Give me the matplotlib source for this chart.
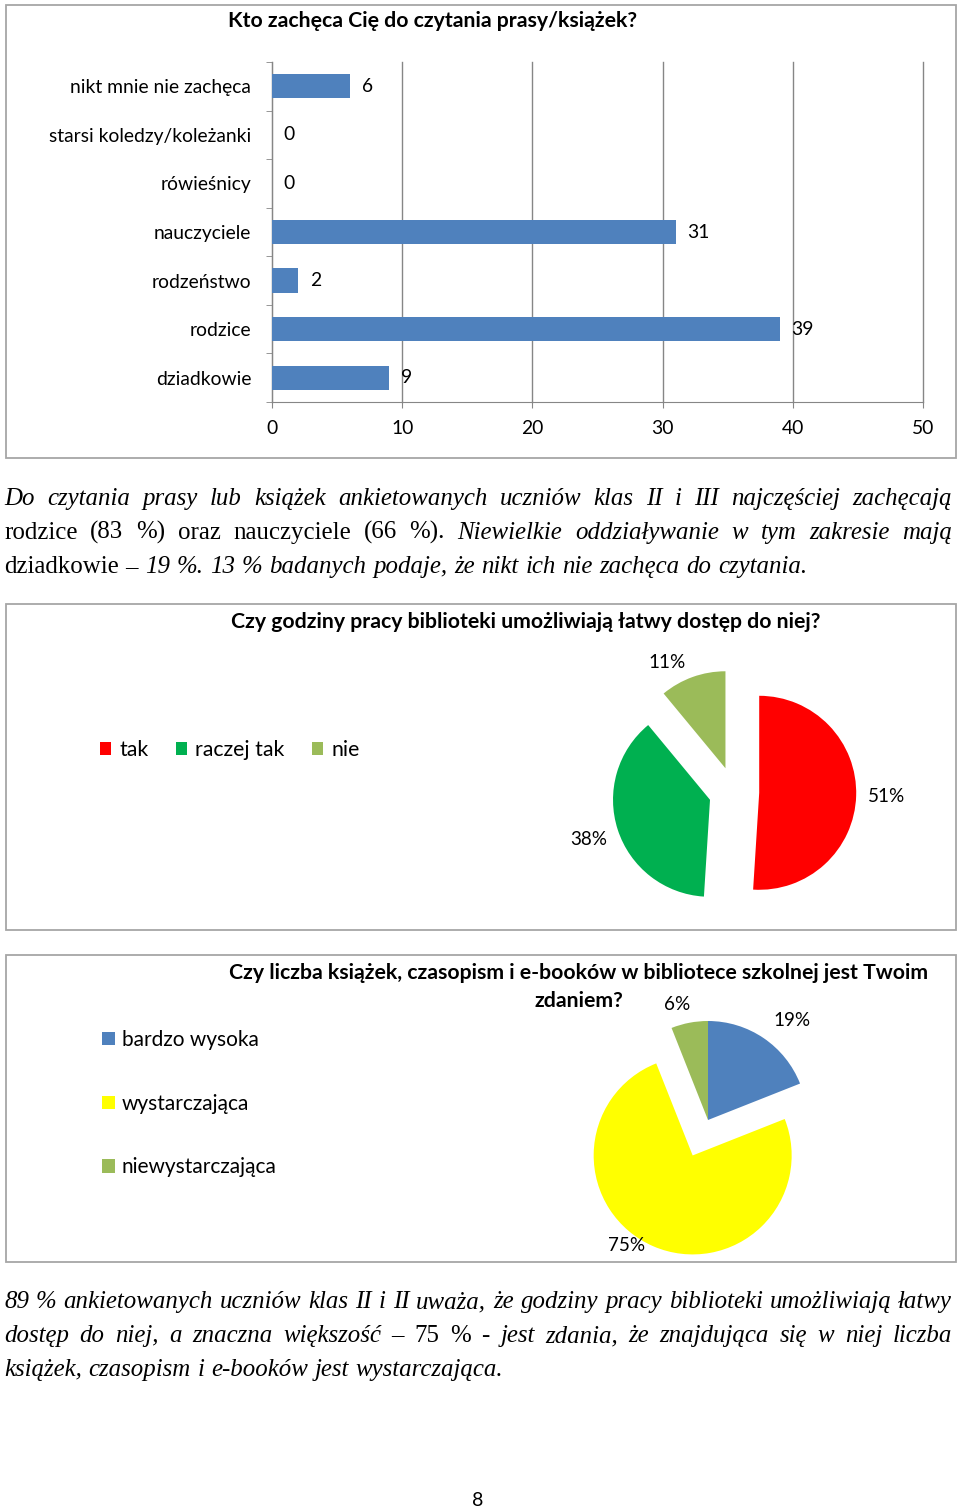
import numpy as np
import matplotlib
matplotlib.use("Agg")
import matplotlib.pyplot as plt
from matplotlib.patches import Rectangle

plt.rcParams['font.family'] = ['Lato', 'DejaVu Sans']

# --- data ---
kto_labels = ["nikt mnie nie zachęca", "starsi koledzy/koleżanki", "rówieśnicy",
              "nauczyciele", "rodzeństwo", "rodzice", "dziadkowie"]
kto_values = [6, 0, 0, 31, 2, 39, 9]
kto_ticks = [0, 10, 20, 30, 40, 50]

godziny_labels = ["tak", "raczej tak", "nie"]
godziny_values = [51, 38, 11]

liczba_labels = ["bardzo wysoka", "wystarczająca", "niewystarczająca"]
liczba_values = [19, 75, 6]

para1 = [
    [("Do czytania prasy lub książek ankietowanych uczniów klas II i III najczęściej zachęcają", True)],
    [("rodzice (83 %) oraz nauczyciele (66 %).", False), ("Niewielkie oddziaływanie w tym zakresie mają", True)],
    [("dziadkowie –", False), ("19 %. 13 % badanych podaje, że nikt ich nie zachęca do czytania.", True)],
]
para2 = [
    [("89 % ankietowanych uczniów klas II i II uważa, że godziny pracy biblioteki umożliwiają łatwy", True)],
    [("dostęp do niej, a znaczna większość –", True), ("75 %", False), ("- jest zdania, że znajdująca się w niej liczba", True)],
    [("książek, czasopism i e-booków jest wystarczająca.", True)],
]

W, H = 960, 1510
fig = plt.figure(figsize=(9.6, 15.1), dpi=100)
fig.patch.set_facecolor('white')


def frac(x0, y0, x1, y1):
    return [x0 / W, 1 - y1 / H, (x1 - x0) / W, (y1 - y0) / H]


def box(x0, y0, x1, y1):
    fig.patches.append(Rectangle((x0 / W, 1 - y1 / H), (x1 - x0) / W, (y1 - y0) / H,
                                 transform=fig.transFigure, fill=False,
                                 edgecolor='#a6a6a6', lw=1.3))


def ftext(x, y, s, **kw):
    return fig.text(x / W, 1 - y / H, s, **kw)


def para_line(y, segs, justify=True, x0=4, x1=952, size=17.9):
    r = fig.canvas.get_renderer()
    words = []
    for s, it in segs:
        for w in s.split():
            words.append(ftext(0, y, w, fontsize=size, family='Liberation Serif',
                               style='italic' if it else 'normal', va='baseline', ha='left'))
    widths = [t.get_window_extent(r).width for t in words]
    gap = (x1 - x0 - sum(widths)) / (len(words) - 1) if justify else size * 100 / 72 * 0.27
    x = x0
    for t, w in zip(words, widths):
        t.set_x(x / W)
        x += w + gap


TITLE = 15.3

# --- chart 1: bars ---
box(6, 5, 956, 458)
ftext(433, 21, "Kto zachęca Cię do czytania prasy/książek?", ha='center', va='center',
      fontsize=TITLE, fontweight='bold')
ax = fig.add_axes(frac(272, 62, 923, 402))
pos = np.arange(len(kto_values))
ax.barh(pos, kto_values, height=0.5, color='#4F81BD', zorder=3)
ax.set_ylim(len(pos) - 0.5, -0.5)
ax.set_xlim(0, 50)
ax.set_xticks(kto_ticks)
ax.set_yticks(pos, kto_labels)
ax.set_yticks(np.arange(len(pos) + 1) - 0.5, minor=True)
ax.tick_params(axis='y', which='major', length=0, pad=15, labelsize=13.9)
ax.tick_params(axis='y', which='minor', length=4, color='#868686')
ax.tick_params(axis='x', length=4, color='#868686', pad=9, labelsize=13.9)
ax.grid(axis='x', color='#868686', lw=1, zorder=0)
for gl in ax.get_xgridlines():
    gl.set_clip_on(False)
for s in ['top', 'right']:
    ax.spines[s].set_visible(False)
ax.spines['left'].set_color('#868686')
ax.spines['bottom'].set_color('#868686')
for p, v in zip(pos, kto_values):
    ax.annotate(str(v), (v, p), xytext=(8.5, 0), textcoords='offset points',
                ha='left', va='center', fontsize=13.9)

para_y1 = 505
for i, line in enumerate(para1):
    para_line(para_y1 + 34 * i, line, justify=i < 2)


def pie_axes(cx, cy, r, k=2.0):
    a = fig.add_axes(frac(cx - k * r, cy - k * r, cx + k * r, cy + k * r))
    return a


def pct_labels(a, wedges, values, dists, shifts, size):
    for w, v, d, sh in zip(wedges, values, dists, shifts):
        th = np.deg2rad((w.theta1 + w.theta2) / 2 + sh)
        cx, cy = w.center
        a.text(cx + d * np.cos(th), cy + d * np.sin(th), f"{v}%", ha='center', va='center',
               fontsize=size)


# --- chart 2: pie ---
box(6, 604, 956, 930)
ftext(526, 622, "Czy godziny pracy biblioteki umożliwiają łatwy dostęp do niej?", ha='center',
      va='center', fontsize=TITLE, fontweight='bold')
ax2 = pie_axes(734, 792, 97)
w2, _ = ax2.pie(godziny_values, colors=['#FF0000', '#00B050', '#9BBB59'], startangle=90,
                counterclock=False, explode=[0.26, 0.26, 0.26])
ax2.set_xlim(-2, 2)
ax2.set_ylim(-2, 2)
ax2.axis('off')
pct_labels(ax2, w2, godziny_values, [1.31, 1.31, 1.24], [0, 0, 9], 13.6)
fig.legend(w2, godziny_labels, loc='center left', bbox_to_anchor=(100 / W, 1 - 750 / H),
           ncol=3, frameon=False, fontsize=15.3, handlelength=0.5, handleheight=0.5,
           handletextpad=0.4, columnspacing=1.3, borderpad=0, borderaxespad=0)

# --- chart 3: pie ---
box(6, 955, 956, 1262)
ftext(579, 973, "Czy liczba książek, czasopism i e-booków w bibliotece szkolnej jest Twoim",
      ha='center', va='center', fontsize=TITLE, fontweight='bold')
ftext(579, 1001, "zdaniem?", ha='center', va='center', fontsize=TITLE, fontweight='bold')
ax3 = pie_axes(708, 1120, 99)
w3, _ = ax3.pie(liczba_values, colors=['#4F81BD', '#FFFF00', '#9BBB59'], startangle=90,
                counterclock=False, explode=[0, 0.39, 0])
ax3.set_xlim(-2, 2)
ax3.set_ylim(-2, 2)
ax3.axis('off')
pct_labels(ax3, w3, liczba_values, [1.32, 1.13, 1.21], [-6, -13, 4], 13.6)
fig.legend(w3, liczba_labels, loc='center left', bbox_to_anchor=(102 / W, 1 - 1103.5 / H),
           ncol=1, frameon=False, fontsize=15, handlelength=0.6, handleheight=0.6,
           handletextpad=0.35, labelspacing=2.1, borderpad=0, borderaxespad=0)

para_y2 = 1308
for i, line in enumerate(para2):
    para_line(para_y2 + 34 * i, line, justify=i < 2)

ftext(478, 1500, "8", ha='center', va='center', fontsize=14)

fig.savefig("out.png", dpi=100)
